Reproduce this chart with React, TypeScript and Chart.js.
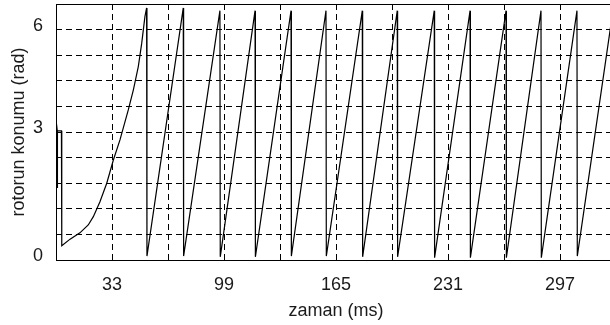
import { useEffect, useRef } from "react";
import { Chart, registerables } from "chart.js";

Chart.register(...registerables);

// rotor position samples (time in ms, angle in rad)
const timeMs = [
  0.3, 0.75, 0.8, 0.9, 3.2, 3.4, 8.3, 14.1, 19.0, 22.0, 25.9, 29.9, 33.8, 37.7,
  42.6, 45.6, 48.5, 50.5, 52.4, 53.4, 53.6, 75.0, 75.2, 96.6, 96.8, 117.3,
  117.5, 138.5, 138.7, 159.1, 159.3, 180.5, 180.7, 201.1, 201.3, 222.9, 223.1,
  244.0, 244.2, 265.2, 265.4, 285.8, 286.0, 307.0, 307.2, 328.2,
];
const rotorPositionRad = [
  3.45, 3.28, 1.83, 3.28, 3.28, 0.36, 0.53, 0.69, 0.89, 1.1, 1.48, 1.95, 2.54,
  3.05, 3.81, 4.32, 4.91, 5.5, 6.18, 6.4, 0.1, 6.4, 0.1, 6.33, 0.08, 6.33, 0.08,
  6.33, 0.1, 6.33, 0.1, 6.33, 0.08, 6.33, 0.08, 6.33, 0.06, 6.33, 0.06, 6.33,
  0.06, 6.33, 0.06, 6.33, 0.1, 6.33,
];

// axes
const xGridMs = [0, 33, 66, 99, 132, 165, 198, 231, 264, 297, 330];
const xLabelledMs = [33, 99, 165, 231, 297];
const yGridValues = [0, 0.65, 1.3, 1.95, 2.6, 3.25, 3.9, 4.55, 5.2, 5.85, 6.5];
const yGridLabels = ["0", "", "", "", "", "3", "", "", "", "6", ""];

const FONT = "'Liberation Sans', Arial, sans-serif";
const TEXT = "#1a1a1a";

export default function App() {
  const ref = useRef<HTMLCanvasElement>(null);

  useEffect(() => {
    if (!ref.current) return;
    const frame = {
      id: "frame",
      afterDatasetsDraw(chart: any) {
        const { ctx, chartArea } = chart;
        const l = Math.round(chartArea.left) + 0.5;
        const t = Math.round(chartArea.top) + 0.5;
        const r = Math.round(chartArea.right) + 0.5;
        const b = Math.round(chartArea.bottom) + 0.5;
        ctx.save();
        ctx.strokeStyle = "#000";
        ctx.lineWidth = 1;
        ctx.setLineDash([]);
        ctx.strokeRect(l, t, r - l, b - t);
        ctx.restore();
      },
    };

    const chart = new Chart(ref.current, {
      type: "line",
      data: {
        datasets: [
          {
            data: timeMs.map((t, i) => ({ x: t, y: rotorPositionRad[i] })),
            borderColor: "#000",
            borderWidth: 1.2,
            pointRadius: 0,
            tension: 0,
            fill: false,
          },
        ],
      },
      options: {
        responsive: false,
        animation: false,
        events: [],
        layout: { padding: { left: 0, top: 4, right: 6, bottom: 0 } },
        plugins: { legend: { display: false }, tooltip: { enabled: false } },
        scales: {
          x: {
            type: "linear",
            min: 0,
            max: 330,
            afterBuildTicks: (s: any) => {
              s.ticks = xGridMs.map((v) => ({ value: v }));
            },
            afterFit: (s: any) => {
              s.height = 65;
              s.paddingLeft = 0;
              s.paddingRight = 0;
            },
            ticks: {
              autoSkip: false,
              maxRotation: 0,
              padding: 14,
              color: TEXT,
              font: { family: FONT, size: 18 },
              callback: (v: any) =>
                xLabelledMs.includes(Number(v)) ? String(v) : "",
            },
            grid: { color: "#000", lineWidth: 1, drawTicks: false },
            border: { display: false, dash: [6, 4] },
            title: {
              display: true,
              text: "zaman (ms)",
              color: TEXT,
              font: { family: FONT, size: 18 },
              padding: { top: 0, bottom: 3 },
            },
          },
          y: {
            type: "linear",
            min: 0,
            max: 6.5,
            afterBuildTicks: (s: any) => {
              s.ticks = yGridValues.map((v) => ({ value: v }));
            },
            afterFit: (s: any) => {
              s.width = 56;
              s.paddingTop = 0;
              s.paddingBottom = 0;
            },
            ticks: {
              autoSkip: false,
              padding: 13,
              labelOffset: -4,
              color: TEXT,
              font: { family: FONT, size: 18 },
              callback: (v: any) => {
                const i = yGridValues.findIndex((g) => Math.abs(g - Number(v)) < 1e-6);
                return i >= 0 ? yGridLabels[i] : "";
              },
            },
            grid: { color: "#000", lineWidth: 1, drawTicks: false },
            border: { display: false, dash: [6, 4] },
            title: {
              display: true,
              text: "rotorun konumu (rad)",
              color: TEXT,
              font: { family: FONT, size: 18 },
              padding: { top: 8, bottom: 0 },
            },
          },
        },
      },
      plugins: [frame],
    } as any);
    return () => chart.destroy();
  }, []);

  return (
    <div
      style={{
        position: "fixed",
        left: 0,
        top: 0,
        width: 610,
        height: 325,
        overflow: "hidden",
        background: "#fff",
      }}
    >
      <canvas
        ref={ref}
        width={622}
        height={325}
        style={{ display: "block", width: 622, height: 325 }}
      />
    </div>
  );
}
